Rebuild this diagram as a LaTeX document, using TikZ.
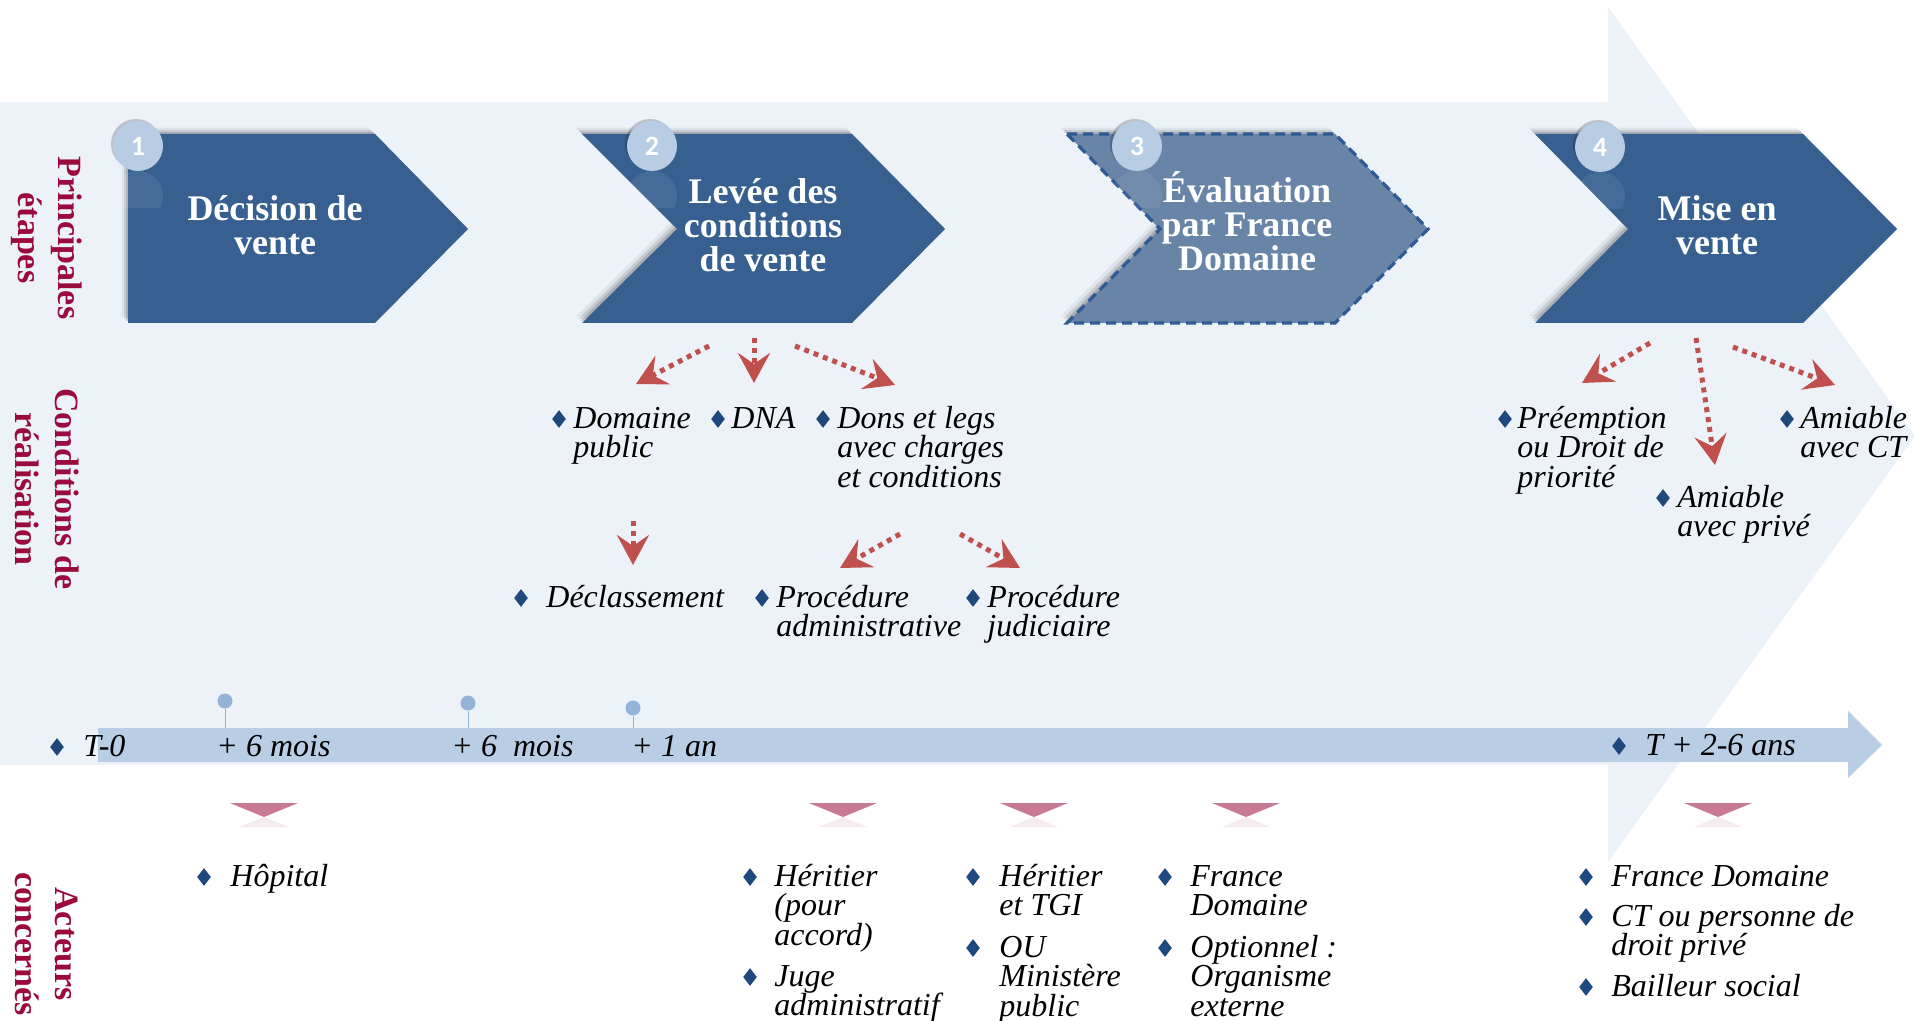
\documentclass[tikz,border=0pt]{standalone}
\usepackage{fontspec}
\setmainfont{Liberation Serif}
\newfontfamily\numfont{Carlito}
\usetikzlibrary{arrows.meta, shapes.geometric, shadows}
\definecolor{bgblue}{RGB}{237,242,249}
\definecolor{barblue}{RGB}{185,205,229}
\definecolor{pinblue}{RGB}{149,179,215}
\definecolor{chevblue}{RGB}{55,96,145}
\definecolor{chevgrey}{RGB}{104,132,166}
\definecolor{dashblue}{RGB}{47,90,150}
\definecolor{circblue}{RGB}{184,204,228}
\definecolor{arrred}{RGB}{192,80,77}
\definecolor{trirose}{RGB}{200,122,148}
\definecolor{bulblue}{RGB}{31,73,125}
\definecolor{sidered}{RGB}{155,10,60}
\newcommand{\itemfont}{\fontsize{16}{14.7}\selectfont\itshape\lineskiplimit=-5pt\relax}
\newcommand{\titlefont}{\fontsize{18}{17}\selectfont\bfseries\lineskiplimit=-5pt\relax}
\newcommand{\sidefont}{\fontsize{17}{20}\selectfont\bfseries}
\newcommand{\tp}{\rule{0pt}{13pt}}
\tikzset{
  chev/.style={fill=chevblue,
    drop shadow={shadow xshift=-1pt, shadow yshift=1pt, opacity=.14, fill=black},
    drop shadow={shadow xshift=-2pt, shadow yshift=2pt, opacity=.1, fill=black},
    drop shadow={shadow xshift=-3.2pt, shadow yshift=3.2pt, opacity=.06, fill=black}},
  stepnum/.style={circle, fill=circblue, minimum size=25pt, inner sep=0pt, text=white,
    font=\numfont\bfseries\fontsize{14}{14}\selectfont,
    drop shadow={shadow xshift=-1pt, shadow yshift=1pt, opacity=.2, fill=black}},
  steptitle/.style={text=white, align=center, inner sep=0pt, font=\titlefont},
  sidelabel/.style={text=sidered, align=center, inner sep=0pt, rotate=-90, font=\sidefont},
  bullet/.style={diamond, fill=bulblue, minimum width=7pt, minimum height=9pt, inner sep=0pt},
  itemtext/.style={anchor=north west, align=left, inner sep=0pt, font=\itemfont},
  condarrow/.style={draw=arrred, line width=2.5pt, dash pattern=on 2.5pt off 2.5pt,
    -{Stealth[length=15pt, width=16pt, inset=5.5pt]}},
  pinhead/.style={circle, fill=pinblue, minimum size=7.5pt, inner sep=0pt}
}
\begin{document}
\begin{tikzpicture}[x=0.5pt, y=-0.5pt]
\useasboundingbox (0,0) rectangle (1915,1021);
\fill[white] (0,0) rectangle (1915,1021);
% big background arrow
\fill[bgblue] (0,102) -- (1608,102) -- (1608,7) -- (1915,436) -- (1608,862)
  -- (1608,765) -- (0,765) -- cycle;
% time line
\fill[barblue] (98,728) -- (1848,728) -- (1848,711) -- (1882,745) -- (1848,778)
  -- (1848,762) -- (98,762) -- cycle;

% the four steps
\fill[chev] (128,134) -- (375,134) -- (468,229) -- (375,323) -- (128,323) -- cycle;
\fill[chev] (582,134) -- (852,134) -- (945,229) -- (852,323) -- (582,323) -- (677,229) -- cycle;
\filldraw[chev, fill=chevgrey, draw=dashblue, line width=1.6pt, dash pattern=on 5pt off 3pt]
  (1067,134) -- (1335,134) -- (1428,229) -- (1335,323) -- (1067,323) -- (1160,229) -- cycle;
\fill[chev] (1535,134) -- (1803,134) -- (1897,229) -- (1803,323) -- (1535,323) -- (1628,229) -- cycle;

\node[steptitle] (s1) at (275,225) {Décision de\\vente};
\node[steptitle] (s2) at (763,225) {Levée des\\conditions\\de vente};
\node[steptitle] (s3) at (1247,221) {Évaluation\\par France\\Domaine};
\node[steptitle] (s4) at (1717,225) {Mise en\\vente};

\foreach \nm/\x/\y in {1/138/146, 2/652/146, 3/1137/146, 4/1600/147} {
  \begin{scope}
    \clip (\x-25,\y+25) rectangle (\x+25,\y+62);
    \fill[white, opacity=.07] (\x,\y+50) circle (25);
  \end{scope}
  \node[stepnum] (n\nm) at (\x,\y) {\nm};
}

% row titles
\node[sidelabel] (r1) at (47,238) {Principales\\étapes};
\node[sidelabel] (r2) at (47,489) {Conditions de\\réalisation};
\node[sidelabel] (r3) at (47,944) {Acteurs\\concernés};

% dotted arrows
\foreach \nm/\sx/\sy/\ex/\ey in {a/709/346/636/384, b/754/338/754/383, c/795/346/895/385,
    d/633/521/633/565, e/900/534/840/568, f/960/534/1020/568,
    g/1650/343/1582/383, h/1696/338/1715/465, i/1733/347/1835/385} {
  \coordinate (from\nm) at (\sx,\sy);
  \coordinate (to\nm) at (\ex,\ey);
  \draw[condarrow] (from\nm) -- (to\nm);
}

% conditions and actors
\foreach \nm/\bx/\tx/\ry/\txt in {
    dp/559/573/419/{Domaine\\public},
    dna/718/731/419/{DNA},
    dons/823/837/419/{Dons et legs\\avec charges\\et conditions},
    decl/521/546/598/{Déclassement},
    padm/762/776/598/{Procédure\\administrative},
    pjud/973/987/598/{Procédure\\judiciaire},
    pre/1505/1517/419/{Préemption\\ou Droit de\\priorité},
    amp/1663/1677/498/{Amiable\\avec privé},
    amct/1787/1800/419/{Amiable\\avec CT},
    hop/204/230/877/{Hôpital},
    her/750/774/877/{Héritier\\(pour\\accord)},
    juge/750/774/977/{Juge\\administratif},
    tgi/973/999/877/{Héritier\\et TGI},
    ou/973/999/948/{OU\\Ministère\\public},
    fda/1165/1190/877/{France\\Domaine},
    opt/1165/1190/948/{Optionnel~:\\Organisme\\externe},
    fdb/1586/1611/877/{France Domaine},
    ct/1586/1611/917/{CT ou personne de\\droit privé},
    bail/1586/1611/987/{Bailleur social}} {
  \node[bullet] (b\nm) at (\bx,\ry) {};
  \node[itemtext] (t\nm) at (\tx,\ry-17) {\tp\txt};
}

% time marks
\foreach \nm/\x/\y in {1/225/701, 2/468/703, 3/633/708} {
  \node[pinhead] (p\nm) at (\x,\y) {};
  \coordinate (q\nm) at (\x,728);
  \draw[pinblue, line width=.4pt] (p\nm) -- (q\nm);
}
\node[bullet] (bt0) at (57,747) {};
\node[itemtext] (lt0) at (83,730) {\tp T-0};
\node[itemtext] (lt1) at (216,730) {\tp + 6 mois};
\node[itemtext] (lt2) at (451,730) {\tp + 6~\ mois};
\node[itemtext] (lt3) at (631,730) {\tp + 1 an};
\node[bullet] (bt4) at (1619,746) {};
\node[itemtext] (lt4) at (1645,729) {\tp T + 2-6 ans};

% markers above the actors
\foreach \cx in {264, 843, 1034, 1246, 1718} {
  \fill[trirose] (\cx-34,803) -- (\cx+34,803) -- (\cx,817) -- cycle;
  \fill[trirose, opacity=.15] (\cx,817) -- (\cx+24,827) -- (\cx-24,827) -- cycle;
}
\end{tikzpicture}
\end{document}
